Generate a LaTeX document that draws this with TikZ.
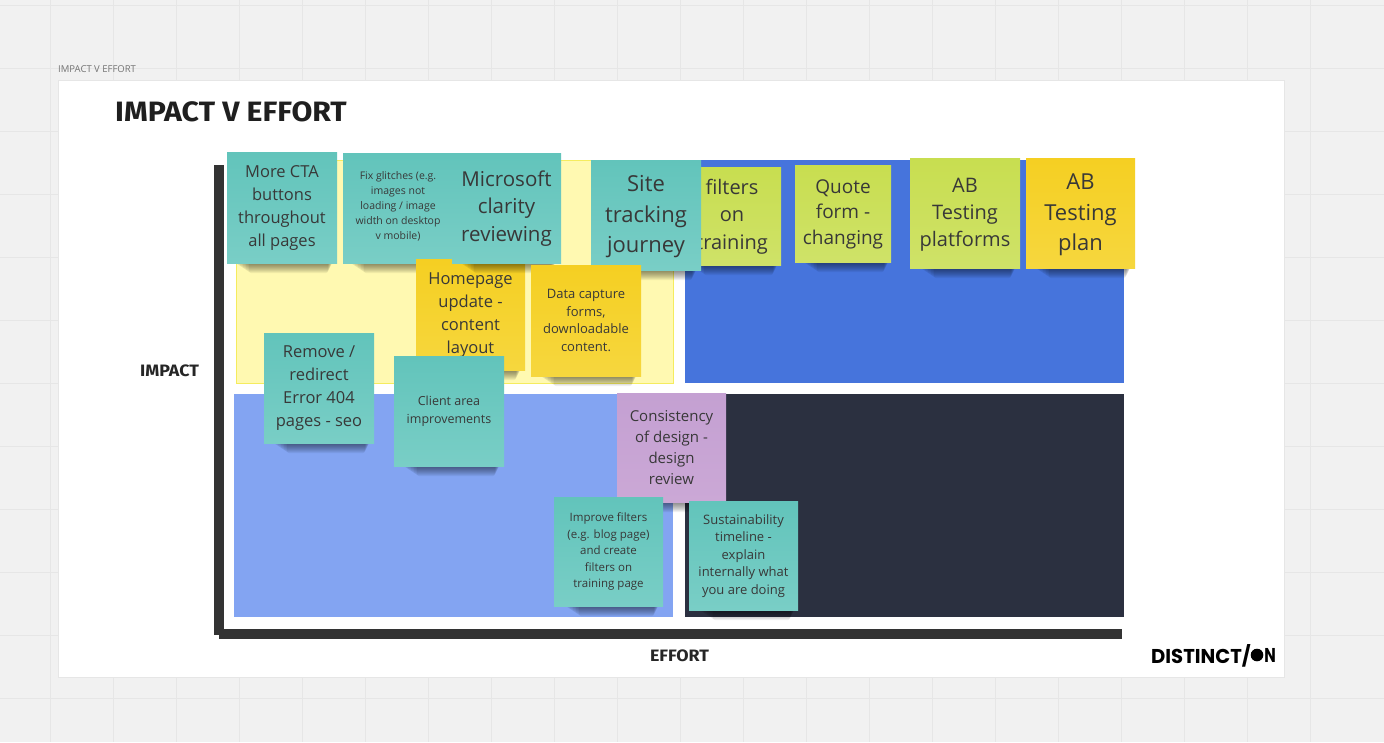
\documentclass[tikz,border=0pt]{standalone}
\usepackage{fontspec}
\setmainfont{Open Sans}
\newfontfamily\headfont{Fira Sans}
\newfontfamily\logofont{Poppins}
\definecolor{boardbg}{HTML}{F1F1F1}
\definecolor{gridline}{HTML}{E6E6E6}
\definecolor{axisgray}{HTML}{333333}
\definecolor{quadyellow}{HTML}{FFF9B1}
\definecolor{quadedge}{HTML}{F5EC5E}
\definecolor{quadblue}{HTML}{4674DC}
\definecolor{quadlight}{HTML}{83A4F2}
\definecolor{quaddark}{HTML}{2B3040}
\definecolor{tealtop}{HTML}{62C4BB}
\definecolor{tealbot}{HTML}{79CEC6}
\definecolor{yellowtop}{HTML}{F5CF22}
\definecolor{yellowbot}{HTML}{F6D73E}
\definecolor{greentop}{HTML}{C8DE50}
\definecolor{greenbot}{HTML}{CFE268}
\definecolor{purpletop}{HTML}{C4A0D2}
\definecolor{purplebot}{HTML}{CBA8D6}
\tikzset{
  note/.style 2 args={inner sep=0, align=center, text=black!78, font=\fontsize{#1}{#2}\selectfont},
  tealnote/.style={top color=tealtop, bottom color=tealbot},
  yellownote/.style={top color=yellowtop, bottom color=yellowbot},
  greennote/.style={top color=greentop, bottom color=greenbot},
  purplenote/.style={top color=purpletop, bottom color=purplebot},
  axislabel/.style={font=\headfont\bfseries\fontsize{16.5}{17}\selectfont, text=black!85, inner sep=0, xscale=1.08},
  logotype/.style={font=\logofont\bfseries\fontsize{20}{20}\selectfont, inner sep=0, xscale=0.98},
}
% soft shadow under a note: left end, right end, bottom edge
\newcommand{\noteshadow}[3]{\foreach \d in {1,...,10}
  \fill[black, opacity=0.055, rounded corners=2] ({#1+\d*1.5-6},#3-4) rectangle ({#2-\d*.5+3},{#3+\d});}
\begin{document}
\begin{tikzpicture}[x=1pt,y=-1pt]
  \useasboundingbox (0,0) rectangle (1384,742);
  \fill[boardbg] (0,0) rectangle (1384,742);
  \foreach \i in {0,...,21} \draw[gridline] ({50+63*\i-63},0) -- ({50+63*\i-63},742);
  \foreach \j in {0,...,11} \draw[gridline] (0,{5+63*\j}) -- (1384,{5+63*\j});
  \fill[white, draw=gridline] (58,80) rectangle (1284,677);
  \node[font=\fontsize{9.5}{10}\selectfont, text=black!55, anchor=west, inner sep=0] (boardname) at (58,69) {IMPACT V EFFORT};
  \node[font=\headfont\bfseries\fontsize{28}{28}\selectfont, text=black!88, anchor=west, inner sep=0, xscale=1.08] (title) at (115,112) {IMPACT V EFFORT};
  % quadrants
  \fill[quadyellow, draw=quadedge] (236,160) rectangle (673,383);
  \fill[quadblue] (685,160) rectangle (1124,383);
  \fill[quadlight] (234,394) rectangle (673,617);
  \fill[quaddark] (685,394) rectangle (1124,617);
  % axes
  \fill[axisgray] (214,165) rectangle (224,635);
  \fill[axisgray] (219,629) rectangle (1122,639);
  \node[axislabel] (impact) at (169.5,371) {IMPACT};
  \node[axislabel] (effort) at (679.5,656) {EFFORT};
  % notes, back to front
  \noteshadow{240}{330}{263}
  \fill[tealnote] (227,152) rectangle (337,263);
  \node[note={16.5}{23}] (cta) at (282,208.5) {More CTA\\buttons\\throughout\\all pages};
  \noteshadow{355}{445}{263}
  \fill[tealnote] (343,153) rectangle (453,263);
  \node[note={10.5}{15}] (glitches) at (398,206) {Fix glitches (e.g.\\images not\\loading / image\\width on desktop\\v mobile)};
  \noteshadow{430}{518}{370}
  \fill[yellownote] (416,259) rectangle (525,370);
  \node[note={16.5}{23}] (homepage) at (470.5,315.5) {Homepage\\update -\\content\\layout};
  \noteshadow{465}{553}{263}
  \fill[tealnote] (452,153) rectangle (561,263);
  \node[note={20.5}{27.5}] (clarity) at (506.5,208.5) {Microsoft\\clarity\\reviewing};
  \noteshadow{695}{775}{265}
  \fill[greennote] (683,167) rectangle (781,265);
  \node[note={20}{27.5}] (filters) at (732,216.5) {filters\\on\\training};
  \noteshadow{808}{886}{262}
  \fill[greennote] (795,165) rectangle (891,262);
  \node[note={19}{25.5}] (quote) at (843,214) {Quote\\form -\\changing};
  \noteshadow{925}{1013}{268}
  \fill[greennote] (910,158) rectangle (1020,268);
  \node[note={20}{27}] (platforms) at (965,215) {AB\\Testing\\platforms};
  \noteshadow{1040}{1128}{268}
  \fill[yellownote] (1026,158) rectangle (1135,268);
  \node[note={22}{30.5}] (plan) at (1080.5,215) {AB\\Testing\\plan};
  \noteshadow{606}{694}{270}
  \fill[tealnote] (591,160) rectangle (701,270);
  \node[note={22}{30.5}] (tracking) at (646,217) {Site\\tracking\\journey};
  \noteshadow{545}{634}{376}
  \fill[yellownote] (531,265) rectangle (641,376);
  \node[note={13}{17.5}] (capture) at (586,320.5) {Data capture\\forms,\\downloadable\\content.};
  \noteshadow{278}{367}{443}
  \fill[tealnote] (264,333) rectangle (374,443);
  \node[note={16.5}{23}] (redirect) at (319,388.5) {Remove /\\redirect\\Error 404\\pages - seo};
  \noteshadow{408}{497}{466}
  \fill[tealnote] (394,356) rectangle (504,466);
  \node[note={12.5}{18}] (client) at (449,411) {Client area\\improvements};
  \noteshadow{632}{720}{502}
  \fill[purplenote] (617,393) rectangle (726,502);
  \node[note={15}{21}] (consistency) at (671.5,448) {Consistency\\of design -\\design\\review};
  \noteshadow{570}{656}{606}
  \fill[tealnote] (554,497) rectangle (663,606);
  \node[note={11.5}{16.5}] (improve) at (608.5,551.5) {Improve filters\\(e.g. blog page)\\and create\\filters on\\training page};
  \noteshadow{704}{792}{610}
  \fill[tealnote] (689,501) rectangle (798,610);
  \node[note={13}{17.5}] (sustain) at (743.5,556) {Sustainability\\timeline -\\explain\\internally what\\you are doing};
  % logo
  \node[logotype, anchor=west] (logotext) at (1151,655.5) {DISTINCT/};
  \fill[black] (1257,655) circle (6.3);
  \node[logotype, anchor=east, xscale=0.78] (logoend) at (1276,655.5) {N};
\end{tikzpicture}
\end{document}
